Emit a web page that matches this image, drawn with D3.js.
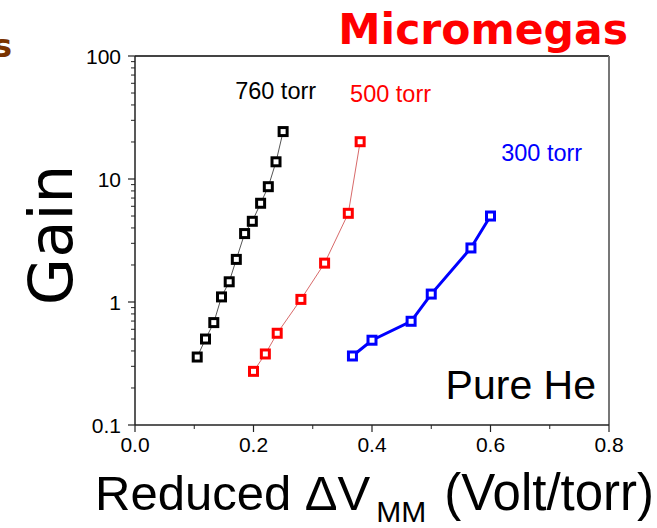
<!DOCTYPE html>
<html>
<head>
<meta charset="utf-8">
<script src="https://cdn.jsdelivr.net/npm/d3@7"></script>
<style>
  body { margin: 0; background: #fff; }
  svg { display: block; }
</style>
</head>
<body>
<div id="chart"></div>
<script>
var width = 657;
var height = 528;

// data
var x760 = [0.105, 0.119, 0.133, 0.146, 0.159, 0.171, 0.185, 0.198, 0.212, 0.225, 0.238, 0.250];
var y760 = [0.357, 0.50, 0.68, 1.10, 1.46, 2.22, 3.6, 4.53, 6.35, 8.66, 13.8, 24.3];
var x500 = [0.200, 0.220, 0.240, 0.280, 0.320, 0.360, 0.380];
var y500 = [0.273, 0.378, 0.557, 1.05, 2.07, 5.26, 20.1];
var x300 = [0.367, 0.400, 0.466, 0.500, 0.567, 0.600];
var y300 = [0.364, 0.489, 0.697, 1.16, 2.75, 5.0];

var xTicks = [0.0, 0.2, 0.4, 0.6, 0.8];
var yTicks = [0.1, 1, 10, 100];

var series = [
  { name: "760 torr", xs: x760, ys: y760, color: "#000000", line: "#555555", lw: 1, lx: 0.169, ly: 43 },
  { name: "500 torr", xs: x500, ys: y500, color: "#ff0000", line: "#d86a6a", lw: 1, lx: 0.363, ly: 46 },
  { name: "300 torr", xs: x300, ys: y300, color: "#0000ff", line: "#0000ff", lw: 3, lx: 0.618, ly: 105 }
];

var margin = { top: 56, right: 48, bottom: 103, left: 135 };
var plotW = width - margin.left - margin.right;
var plotH = height - margin.top - margin.bottom;

var x = d3.scaleLinear().domain([0, 0.8]).range([0, plotW]);
var y = d3.scaleLog().domain([0.1, 100]).range([plotH, 0]);

var svg = d3.select("#chart").append("svg")
  .attr("width", width)
  .attr("height", height);

// titles outside the frame
svg.append("text")
  .attr("x", 628)
  .attr("y", 44)
  .attr("text-anchor", "end")
  .attr("font-family", "DejaVu Sans")
  .attr("font-weight", "bold")
  .attr("font-size", 42.5)
  .attr("fill", "#ff0000")
  .text("Micromegas");

// piece of the neighbouring panel's title, cut by the left edge
svg.append("text")
  .attr("x", 12)
  .attr("y", 57)
  .attr("text-anchor", "end")
  .attr("font-family", "DejaVu Sans")
  .attr("font-weight", "bold")
  .attr("font-size", 32)
  .attr("fill", "#7a3300")
  .text("as");

var g = svg.append("g")
  .attr("transform", "translate(" + margin.left + "," + margin.top + ")");

// frame: top and right
g.append("line")
  .attr("x1", 0).attr("x2", plotW)
  .attr("y1", 0).attr("y2", 0)
  .attr("stroke", "#444").attr("stroke-width", 2);
g.append("line")
  .attr("x1", plotW).attr("x2", plotW)
  .attr("y1", 0).attr("y2", plotH)
  .attr("stroke", "#777").attr("stroke-width", 2);

// x axis
var xMinor = d3.range(0.1, 0.8, 0.2);
var xAxis = g.append("g").attr("transform", "translate(0," + plotH + ")");
xAxis.append("line")
  .attr("x1", 0).attr("x2", plotW)
  .attr("stroke", "#222").attr("stroke-width", 1.5);
xAxis.selectAll(".minor").data(xMinor).enter().append("line")
  .attr("x1", d => x(d)).attr("x2", d => x(d))
  .attr("y1", 0).attr("y2", 4)
  .attr("stroke", "#222").attr("stroke-width", 1);
xAxis.selectAll(".major").data(xTicks).enter().append("line")
  .attr("x1", d => x(d)).attr("x2", d => x(d))
  .attr("y1", 0).attr("y2", 7)
  .attr("stroke", "#222").attr("stroke-width", 1.2);
xAxis.selectAll("text").data(xTicks).enter().append("text")
  .attr("x", d => x(d))
  .attr("y", 27)
  .attr("text-anchor", "middle")
  .attr("font-family", "Liberation Sans")
  .attr("font-size", 21)
  .attr("fill", "#000")
  .text(d3.format(".1f"));

// y axis
var yMinor = [];
[0.1, 1, 10].forEach(function(p) {
  for (var k = 2; k <= 9; k++) yMinor.push(p * k);
});
var yAxis = g.append("g");
yAxis.append("line")
  .attr("y1", 0).attr("y2", plotH)
  .attr("stroke", "#222").attr("stroke-width", 1.5);
yAxis.selectAll(".minor").data(yMinor).enter().append("line")
  .attr("x1", -4).attr("x2", 0)
  .attr("y1", d => y(d)).attr("y2", d => y(d))
  .attr("stroke", "#222").attr("stroke-width", 1);
yAxis.selectAll(".major").data(yTicks).enter().append("line")
  .attr("x1", -7).attr("x2", 0)
  .attr("y1", d => y(d)).attr("y2", d => y(d))
  .attr("stroke", "#222").attr("stroke-width", 1.2);
yAxis.selectAll("text").data(yTicks).enter().append("text")
  .attr("x", -14)
  .attr("y", d => y(d))
  .attr("dy", "0.36em")
  .attr("text-anchor", "end")
  .attr("font-family", "Liberation Sans")
  .attr("font-size", 21)
  .attr("fill", "#000")
  .text(d => d >= 1 ? d3.format("d")(d) : "0.1");

// series lines and markers
var line = d3.line().x(d => x(d[0])).y(d => y(d[1]));
var msize = 8;

series.forEach(function(s) {
  var pts = s.xs.map((v, i) => [v, s.ys[i]]);
  g.append("path")
    .attr("d", line(pts))
    .attr("fill", "none")
    .attr("stroke", s.line)
    .attr("stroke-width", s.lw);
  g.selectAll(null).data(pts).enter().append("rect")
    .attr("x", d => x(d[0]) - msize / 2)
    .attr("y", d => y(d[1]) - msize / 2)
    .attr("width", msize)
    .attr("height", msize)
    .attr("fill", "#fff")
    .attr("stroke", s.color)
    .attr("stroke-width", 3);
  g.append("text")
    .attr("x", x(s.lx))
    .attr("y", s.ly)
    .attr("font-family", "Liberation Sans")
    .attr("font-size", 23.5)
    .attr("fill", s.color)
    .text(s.name);
});

g.append("text")
  .attr("x", plotW - 13)
  .attr("y", 343)
  .attr("text-anchor", "end")
  .attr("font-family", "Liberation Sans")
  .attr("font-size", 41)
  .attr("fill", "#000")
  .text("Pure He");

// axis titles
svg.append("text")
  .attr("transform", "translate(72,235) rotate(-90)")
  .attr("text-anchor", "middle")
  .attr("font-family", "DejaVu Sans")
  .attr("font-size", 61)
  .attr("fill", "#000")
  .text("Gain");

var xt = svg.append("text")
  .attr("x", 95)
  .attr("y", 510)
  .attr("font-family", "Liberation Sans")
  .attr("font-size", 49)
  .attr("fill", "#000");
xt.append("tspan").text("Reduced \u0394V");
xt.append("tspan")
  .attr("dx", 6)
  .attr("dy", 12)
  .attr("font-size", 30)
  .text("MM");
xt.append("tspan")
  .attr("dx", 4)
  .attr("dy", -12)
  .attr("font-size", 51)
  .text(" (Volt/torr)");
</script>
</body>
</html>
